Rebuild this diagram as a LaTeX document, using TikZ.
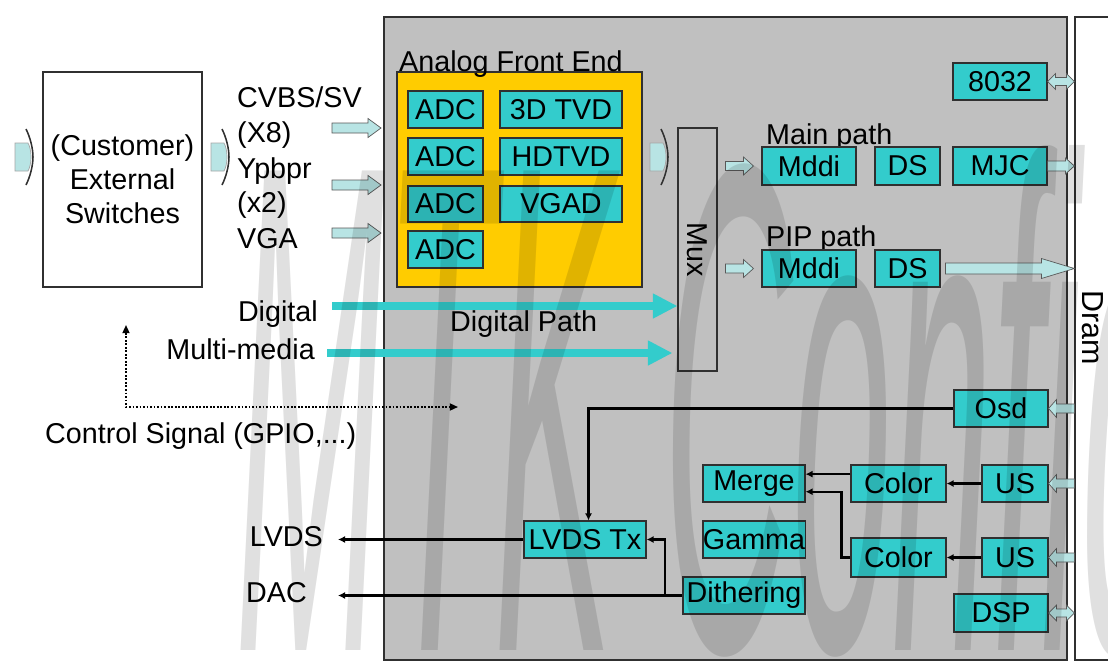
\documentclass[tikz,border=0pt]{standalone}
\usepackage{fontspec}
\setmainfont{Liberation Sans}
\usepackage{graphicx}
\usetikzlibrary{arrows.meta,calc}
\definecolor{boxgray}{HTML}{C0C0C0}
\definecolor{afe}{HTML}{FFCC00}
\definecolor{tq}{HTML}{33CCCC}
\definecolor{lcyan}{HTML}{B8E4E4}
\definecolor{edge}{HTML}{303030}
\newcommand\myfs{\fontsize{24.5}{29}\selectfont}
\newcommand\myfsl{\fontsize{24.5}{29}\selectfont}
\newcommand\myfsd{\fontsize{26}{30}\selectfont}
% block arrow: start, end, shaft half, head half, signed head length (px)
\newcommand\blockarrow[5]{%
 \draw[barrow] let \p1=(#1), \p2=(#2),
   \n1={\x2-(#5)*0.85358}, \n2={\y1+(#3)*0.85358}, \n3={\y1-(#3)*0.85358},
   \n4={\y1+(#4)*0.85358}, \n5={\y1-(#4)*0.85358} in
   (\x1,\n2) -- (\n1,\n2) -- (\n1,\n4) -- (\x2,\y1) -- (\n1,\n5) -- (\n1,\n3) -- (\x1,\n3) -- cycle;}
% double block arrow: left, right, shaft half, head half, head length
\newcommand\dblockarrow[5]{%
 \draw[barrow] let \p1=(#1), \p2=(#2),
   \n1={\x1+(#5)*0.85358}, \n6={\x2-(#5)*0.85358},
   \n2={\y1+(#3)*0.85358}, \n3={\y1-(#3)*0.85358},
   \n4={\y1+(#4)*0.85358}, \n5={\y1-(#4)*0.85358} in
   (\x1,\y1) -- (\n1,\n4) -- (\n1,\n2) -- (\n6,\n2) -- (\n6,\n4) -- (\x2,\y1)
   -- (\n6,\n5) -- (\n6,\n3) -- (\n1,\n3) -- (\n1,\n5) -- cycle;}
% fat bracket arrow
\newcommand\fatarrow[2]{%
 \filldraw[fill=lcyan, draw=gray!70, line width=0.6pt] (#1,#2-14) -- (#1+13,#2-14) .. controls (#1+17,#2-7) and (#1+17,#2+7) .. (#1+13,#2+14) -- (#1,#2+14) -- cycle;
 \draw[line width=1.3pt, edge] (#1+11,#2-28) .. controls (#1+15,#2-20) and (#1+18,#2-9) .. (#1+18,#2) .. controls (#1+18,#2+9) and (#1+15,#2+20) .. (#1+11,#2+28);}
\tikzset{
 rect/.style n args={4}{minimum width={((#3)-(#1))*0.3mm}, minimum height={((#4)-(#2))*0.3mm}, at={({((#1)+(#3))/2},{((#2)+(#4))/2})}},
 box/.style={draw=edge, line width=0.9pt, inner sep=0pt},
 blk/.style={box, fill=tq, font=\myfs},
 lab/.style={inner sep=0pt, font=\myfs},
 barrow/.style={fill=lcyan, draw=edge!80, line width=0.6pt},
 conn/.style={line width=2pt, -{Latex[length=6pt,width=6pt]}},
 ctrl/.style={line width=1.5pt, dash pattern=on 1.5pt off 1.5pt, {Triangle[length=7pt,width=6pt]}-{Triangle[length=7pt,width=6pt]}},
 tqarrow/.style={draw=tq, line width=6pt, -{Triangle[length=21pt,width=20pt]}}
}
\begin{document}
\begin{tikzpicture}[x=0.3mm,y=-0.3mm]
\useasboundingbox (0,0) rectangle (1108,664);
\clip (0,0) rectangle (1108,664);
\fill[white] (0,0) rectangle (1108,664);

% main chip and dram
\node[box, fill=boxgray, line width=1pt, rect={384}{17}{1067}{660}] (chip) {};
\node[box, fill=white, line width=1pt, rect={1075}{17}{1130}{660}] (dram) {};
\node[lab, rotate=-90, font=\myfsd] (dramt) at (1093,328) {Dram};

% external switches
\node[box, fill=white, line width=1pt, align=center, font=\myfsl, rect={43}{72}{202}{287}] (sw) {(Customer)\\External\\Switches};

% analog front end
\node[box, fill=afe, rect={397}{72}{642}{287}] (afe) {};
\node[lab, anchor=base west] (afet) at (399,71) {Analog Front End};
\node[blk, rect={408}{91}{483}{128}] (adc1) {ADC};
\node[blk, rect={408}{138}{483}{175}] (adc2) {ADC};
\node[blk, rect={408}{186}{483}{222}] (adc3) {ADC};
\node[blk, rect={408}{231}{483}{268}] (adc4) {ADC};
\node[blk, rect={500}{91}{622}{128}] (tvd) {3D TVD};
\node[blk, rect={500}{138}{622}{175}] (hdtvd) {HDTVD};
\node[blk, rect={500}{186}{622}{222}] (vgad) {VGAD};

% mux
\node[box, fill=boxgray, rect={678}{128}{717}{371}] (mux) {};
\node[lab, rotate=-90] (muxt) at (mux.center) {Mux};

% paths
\node[blk, rect={953}{63}{1047}{100}] (n8032) {8032};
\node[lab, anchor=base west] (mainp) at (766,144) {Main path};
\node[blk, rect={762}{147}{856}{185}] (mddi1) {Mddi};
\node[blk, rect={875}{147}{940}{185}] (ds1) {DS};
\node[blk, rect={953}{147}{1047}{185}] (mjc) {MJC};
\node[lab, anchor=base west] (pipp) at (766,246) {PIP path};
\node[blk, rect={762}{250}{856}{287}] (mddi2) {Mddi};
\node[blk, rect={875}{250}{940}{287}] (ds2) {DS};

% output side
\node[blk, rect={954}{390}{1048}{427}] (osd) {Osd};
\node[blk, rect={703}{465}{805}{502}] (merge) {Merge};
\node[blk, rect={851}{465}{946}{502}] (color1) {Color};
\node[blk, rect={982}{465}{1048}{502}] (us1) {US};
\node[blk, rect={524}{521}{646}{558}] (lvdstx) {LVDS Tx};
\node[blk, rect={703}{521}{805}{558}] (gamma) {Gamma};
\node[blk, rect={851}{538}{946}{577}] (color2) {Color};
\node[blk, rect={982}{538}{1048}{577}] (us2) {US};
\node[blk, rect={683}{577}{805}{614}] (dith) {Dithering};
\node[blk, rect={954}{594}{1048}{632}] (dsp) {DSP};

% left labels
\node[lab, anchor=base west] (cvbs) at (237,107) {CVBS/SV};
\node[lab, anchor=base west] (x8) at (237,142) {(X8)};
\node[lab, anchor=base west] (ypb) at (237,178) {Ypbpr};
\node[lab, anchor=base west] (x2) at (237,212) {(x2)};
\node[lab, anchor=base west] (vga) at (237,248) {VGA};
\node[lab, anchor=base east] (dig) at (318,321) {Digital};
\node[lab, anchor=base east] (mm) at (315,359) {Multi-media};
\node[lab, anchor=base west] (dpath) at (450,331) {Digital Path};
\node[lab, anchor=base west] (ctrlt) at (45,443) {Control Signal (GPIO,...)};
\node[lab, anchor=base east] (lvds) at (323,546) {LVDS};
\node[lab, anchor=base east] (dac) at (307,602) {DAC};

% fat arrows
\fatarrow{15}{157}
\fatarrow{211}{157}
\fatarrow{650}{157}

% input block arrows
\coordinate (cvA) at (332,128); \coordinate (cvB) at (381,128);
\coordinate (ypA) at (332,185); \coordinate (ypB) at (381,185);
\coordinate (vgA) at (332,233); \coordinate (vgB) at (381,233);
\blockarrow{cvA}{cvB}{5}{9.5}{13}
\blockarrow{ypA}{ypB}{5}{9.5}{13}
\blockarrow{vgA}{vgB}{5}{9.5}{13}

% mux to paths
\blockarrow{$(mux.east|-mddi1.west)+(8,0)$}{$(mddi1.west)+(-8,0)$}{4.5}{9}{10}
\blockarrow{$(mux.east|-mddi2.west)+(8,0)$}{$(mddi2.west)+(-8,0)$}{4.5}{9}{10}

% dram arrows
\dblockarrow{n8032.east}{n8032.east -| dram.west}{4}{8}{8}
\blockarrow{mjc.east}{mjc.east -| dram.west}{5}{8}{9}
\blockarrow{$(ds2.east)+(5,0)$}{ds2.east -| dram.west}{5.5}{10}{33}
\blockarrow{osd.east -| dram.west}{osd.east}{4.5}{9}{-8}
\blockarrow{us1.east -| dram.west}{us1.east}{4.5}{9}{-8}
\blockarrow{us2.east -| dram.west}{us2.east}{4.5}{9}{-8}
\dblockarrow{dsp.east}{dsp.east -| dram.west}{4}{8}{8}

% digital arrows
\coordinate (digS) at (332,306);
\coordinate (mmS) at (327,353);
\draw[tqarrow] (digS) -- (digS -| mux.west);
\draw[tqarrow] (mmS) -- ($(mmS -| mux.west)+(-5,0)$);

% control signal
\coordinate (csU) at (126,325);
\coordinate (csR) at (458,407);
\draw[ctrl] (csU) |- (csR);

% black connectors
\coordinate (lvdsE) at (338,539.5);
\coordinate (dacE) at (338,595.5);
\coordinate (br) at (665,595.5);
\draw[conn] (lvdstx.west) -- (lvdsE);
\draw[conn] (dith.west) -- (dacE);
\draw[conn] (br) |- (lvdstx.east);
\draw[conn] (osd.west) -| ([xshift=3pt]lvdstx.north);
\draw[conn] (us1.west) -- (color1.east);
\draw[conn] ([yshift=8pt]color1.west) -- ([yshift=8pt]merge.east);
\draw[conn] (color2.west) -- ++(-9,0) |- ([yshift=-7pt]merge.east);
\draw[conn] (us2.west) -- (color2.east);

% watermark
\node[anchor=base west, inner sep=0pt, text=black, text opacity=0.12] (wm) at (235,650)
  {\scalebox{1.8}[7]{\fontsize{85}{90}\selectfont\itshape MTK Confidential}};
\end{tikzpicture}
\end{document}
